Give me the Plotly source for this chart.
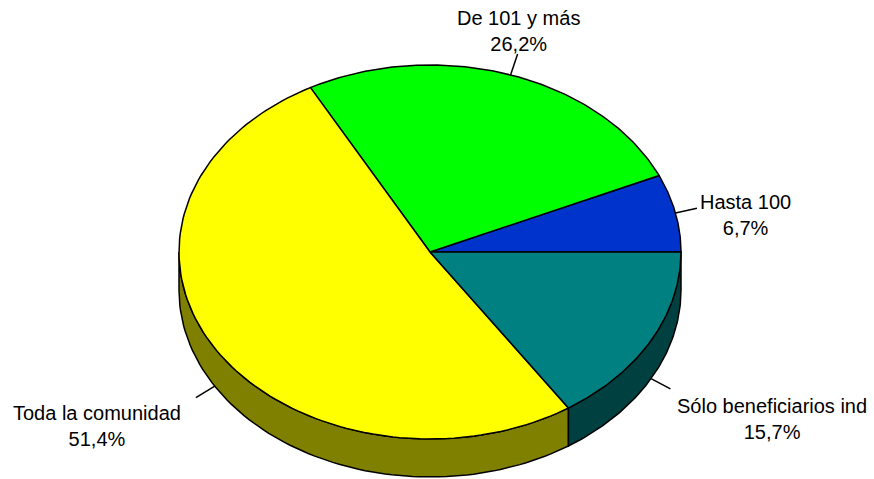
import numpy as np
import plotly.graph_objects as go

labels = ["Hasta 100", "De 101 y más", "Toda la comunidad", "Sólo beneficiarios ind"]
values = [6.7, 26.2, 51.4, 15.7]
pct_text = ["6,7%", "26,2%", "51,4%", "15,7%"]
top_colors = ["#0033CC", "#00FF00", "#FFFF00", "#008080"]
side_colors = ["#001966", "#008000", "#808000", "#004040"]

# geometry of the tilted pie (pixels)
cx, cy = 430, 252
rx, ry = 251, 187
depth = 38

# label placement (text centre) per slice
label_pos = [(745, 215), (518, 31), (97, 426), (772, 419)]


def pt(t, dz=0):
    return cx + rx * np.cos(t), cy - ry * np.sin(t) + dz


fig = go.Figure()

total = sum(values)
bounds = np.concatenate([[0], np.cumsum(values)]) / total * 2 * np.pi

# side walls (only the front half is visible)
for i in range(len(values)):
    a, b = bounds[i], bounds[i + 1]
    lo, hi = max(a, np.pi), min(b, 2 * np.pi)
    if hi <= lo:
        continue
    t = np.linspace(lo, hi, 80)
    xs_top, ys_top = pt(t)
    xs_bot, ys_bot = pt(t[::-1], depth)
    fig.add_trace(go.Scatter(
        x=np.concatenate([xs_top, xs_bot, xs_top[:1]]),
        y=np.concatenate([ys_top, ys_bot, ys_top[:1]]),
        mode="lines", fill="toself", fillcolor=side_colors[i],
        line=dict(color="black", width=1.5), hoverinfo="skip", showlegend=False))

# top face slices
for i in range(len(values)):
    a, b = bounds[i], bounds[i + 1]
    t = np.linspace(a, b, 120)
    xs, ys = pt(t)
    fig.add_trace(go.Scatter(
        x=np.concatenate([[cx], xs, [cx]]),
        y=np.concatenate([[cy], ys, [cy]]),
        mode="lines", fill="toself", fillcolor=top_colors[i],
        line=dict(color="black", width=1.5), hoverinfo="skip", showlegend=False))

# leader lines and labels
for i in range(len(values)):
    mid = (bounds[i] + bounds[i + 1]) / 2
    dz = depth if np.sin(mid) < 0 else 0
    x0, y0 = pt(mid, dz)
    ux, uy = np.cos(mid), -np.sin(mid)
    n = np.hypot(ux, uy)
    x1, y1 = x0 + 22 * ux / n, y0 + 22 * uy / n
    fig.add_trace(go.Scatter(
        x=[x0, x1], y=[y0, y1], mode="lines",
        line=dict(color="black", width=1.5), hoverinfo="skip", showlegend=False))
    lx, ly = label_pos[i]
    fig.add_annotation(
        x=lx, y=ly, text=f"{labels[i]}<br>{pct_text[i]}", showarrow=False,
        align="center", font=dict(family="Liberation Sans, Arial", size=20, color="black"))

fig.update_xaxes(range=[0, 874], visible=False, fixedrange=True)
fig.update_yaxes(range=[479, 0], visible=False, fixedrange=True)
fig.update_layout(
    width=874, height=479,
    margin=dict(l=0, r=0, t=0, b=0),
    plot_bgcolor="white", paper_bgcolor="white",
)

fig.write_html("out.html", config={"displayModeBar": False},
               post_script="document.body.style.margin='0';")
